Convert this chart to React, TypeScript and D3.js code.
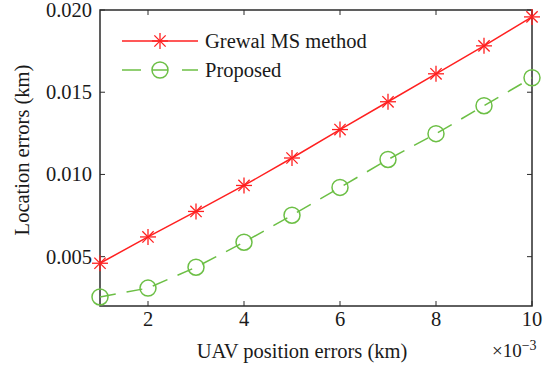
import React, { useEffect, useRef } from "react";
import * as d3 from "d3";

// x values are in units of 1e-3 km
const uavErrors = [1, 2, 3, 4, 5, 6, 7, 8, 9, 10];
const grewalMs = [0.0046, 0.0062, 0.00775, 0.00933, 0.0110, 0.01273, 0.01442, 0.01612, 0.01782, 0.01958];
const proposed = [0.00255, 0.00309, 0.00436, 0.00588, 0.00752, 0.00921, 0.01091, 0.01248, 0.01418, 0.01588];
const xTicks = [2, 4, 6, 8, 10];
const yTicks = [0.005, 0.01, 0.015, 0.02];
const seriesNames = ["Grewal MS method", "Proposed"];

const W = 547;
const H = 367;
const FONT = "Liberation Serif";
const RED = "#ff2020";
const GREEN = "#6cbf45";
const AXIS = "#2b2b2b";

const App = () => {
  const svgRef = useRef<SVGSVGElement>(null);

  useEffect(() => {
    const svg = d3.select(svgRef.current);
    svg.selectAll("*").remove();

    const left = 100, right = 532, top = 10, bottom = 306;
    const x = d3.scaleLinear().domain([1, 10]).range([left, right]);
    const y = d3.scaleLinear().domain([0.002, 0.02]).range([bottom, top]);

    // inward ticks on all four sides
    const tl = 5;
    const g = svg.append("g");
    xTicks.forEach(t => {
      g.append("line").attr("x1", x(t)).attr("x2", x(t)).attr("y1", bottom).attr("y2", bottom - tl)
        .attr("stroke", AXIS).attr("stroke-width", 1);
      g.append("line").attr("x1", x(t)).attr("x2", x(t)).attr("y1", top).attr("y2", top + tl)
        .attr("stroke", AXIS).attr("stroke-width", 1);
      g.append("text").attr("x", x(t)).attr("y", 326).attr("text-anchor", "middle")
        .attr("fill", "#1a1a1a").text(t);
    });
    yTicks.forEach(t => {
      g.append("line").attr("x1", left).attr("x2", left + tl).attr("y1", y(t)).attr("y2", y(t))
        .attr("stroke", AXIS).attr("stroke-width", 1);
      g.append("line").attr("x1", right).attr("x2", right - tl).attr("y1", y(t)).attr("y2", y(t))
        .attr("stroke", AXIS).attr("stroke-width", 1);
      g.append("text").attr("x", 92).attr("y", y(t) + 7).attr("text-anchor", "end")
        .attr("fill", "#1a1a1a").text(d3.format(".3f")(t));
    });

    // axes box
    g.append("rect").attr("x", left).attr("y", top).attr("width", right - left).attr("height", bottom - top)
      .attr("fill", "none").attr("stroke", AXIS).attr("stroke-width", 1.5);

    const line = d3.line<number>().x((_, i) => x(uavErrors[i])).y(d => y(d));

    const star = (sel: any, cx: number, cy: number, r: number) => {
      const p = sel.append("g").attr("stroke", RED).attr("stroke-width", 1.3);
      [0, 45, 90, 135].forEach(a => {
        const rad = (a * Math.PI) / 180;
        p.append("line")
          .attr("x1", cx - r * Math.cos(rad)).attr("y1", cy - r * Math.sin(rad))
          .attr("x2", cx + r * Math.cos(rad)).attr("y2", cy + r * Math.sin(rad));
      });
    };

    // Grewal MS method
    svg.append("path").attr("d", line(grewalMs)).attr("fill", "none")
      .attr("stroke", RED).attr("stroke-width", 1.5);
    grewalMs.forEach((v, i) => star(svg, x(uavErrors[i]), y(v), 8));

    // Proposed
    svg.append("path").attr("d", line(proposed)).attr("fill", "none")
      .attr("stroke", GREEN).attr("stroke-width", 1.5).attr("stroke-dasharray", "16,11");
    proposed.forEach((v, i) => {
      svg.append("circle").attr("cx", x(uavErrors[i])).attr("cy", y(v)).attr("r", 8)
        .attr("fill", "none").attr("stroke", GREEN).attr("stroke-width", 1.5);
    });

    // legend
    const lg = svg.append("g");
    lg.append("line").attr("x1", 122).attr("x2", 198).attr("y1", 41).attr("y2", 41)
      .attr("stroke", RED).attr("stroke-width", 1.5);
    star(lg, 160, 41, 8);
    lg.append("line").attr("x1", 122).attr("x2", 141).attr("y1", 70).attr("y2", 70)
      .attr("stroke", GREEN).attr("stroke-width", 1.5);
    lg.append("line").attr("x1", 152).attr("x2", 168).attr("y1", 70).attr("y2", 70)
      .attr("stroke", GREEN).attr("stroke-width", 1.5);
    lg.append("line").attr("x1", 182).attr("x2", 198).attr("y1", 70).attr("y2", 70)
      .attr("stroke", GREEN).attr("stroke-width", 1.5);
    lg.append("circle").attr("cx", 160).attr("cy", 70).attr("r", 8)
      .attr("fill", "none").attr("stroke", GREEN).attr("stroke-width", 1.5);
    seriesNames.forEach((n, i) => {
      lg.append("text").attr("x", 205).attr("y", 48 + i * 29)
        .attr("fill", "#1a1a1a").text(n);
    });

    // axis labels
    svg.append("text").attr("x", 302).attr("y", 358).attr("text-anchor", "middle")
      .attr("fill", "#1a1a1a")
      .text("UAV position errors (km)");
    const ex = svg.append("text").attr("x", 492).attr("y", 357)
      .attr("font-size", 19).attr("fill", "#1a1a1a");
    ex.append("tspan").text("×10");
    ex.append("tspan").attr("dy", -7).attr("font-size", 14).text("−3");
    svg.append("text").attr("transform", "translate(29,150) rotate(-90)").attr("text-anchor", "middle")
      .attr("fill", "#1a1a1a")
      .text("Location errors (km)");
  }, []);

  return (
    <svg ref={svgRef} width={W} height={H}
      style={{ position: "absolute", left: 0, top: 0, background: "#fff", fontFamily: FONT, fontSize: 20.5 }} />
  );
};

export default App;
